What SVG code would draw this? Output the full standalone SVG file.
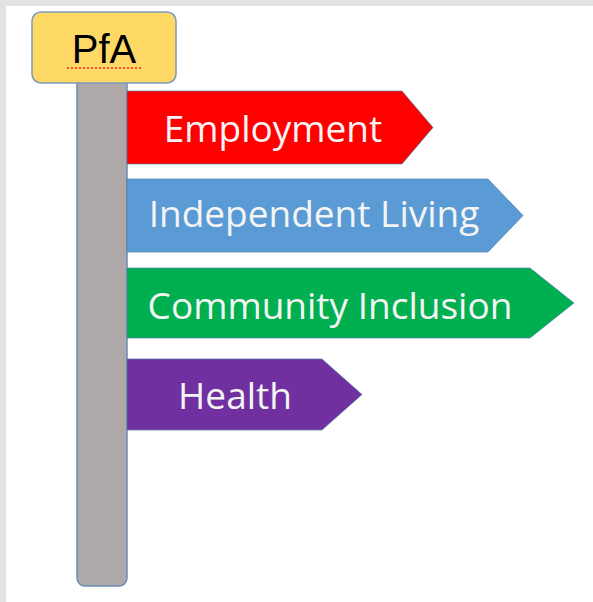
<svg xmlns="http://www.w3.org/2000/svg" width="593" height="602" viewBox="0 0 593 602">
<style>
.lbl{font-family:"Open Sans","Noto Sans","Liberation Sans",sans-serif;font-size:37px;fill:#f4f4f4;text-anchor:middle}
.arrow{stroke:#4f7fae;stroke-width:1;stroke-opacity:0.7}
</style>
<rect x="0" y="0" width="593" height="602" fill="#ffffff"/>
<rect x="0" y="0" width="593" height="6" fill="#e2e2e2"/>
<rect x="0" y="0" width="6" height="602" fill="#e2e2e2"/>
<g id="pole">
<rect x="77" y="70" width="50" height="516" rx="8" fill="#aea9a8" stroke="#6a8cb5" stroke-width="1.5"/>
</g>
<g id="pfa">
<rect x="32" y="12" width="144" height="71" rx="9" fill="#ffd966" stroke="#7b9abd" stroke-width="1.5"/>
<text x="104" y="63" font-family="Liberation Sans,Arial,sans-serif" font-size="40" fill="#000" text-anchor="middle">PfA</text>
<line x1="67" y1="68" x2="143" y2="68" stroke="#ff2020" stroke-width="1.5" stroke-dasharray="2 2"/>
</g>
<g id="employment">
<path class="arrow" d="M127 91 H402 L433 127.5 L402 164 H127 Z" fill="#ff0000"/>
<text class="lbl" x="273" y="142">Employment</text>
</g>
<g id="independent-living">
<path class="arrow" d="M127 179 H488 L523 215.5 L488 252 H127 Z" fill="#5b9bd5"/>
<text class="lbl" x="314" y="227">Independent Living</text>
</g>
<g id="community-inclusion">
<path class="arrow" d="M127 268 H530 L574 303 L530 338 H127 Z" fill="#00b050"/>
<text class="lbl" x="330" y="319">Community Inclusion</text>
</g>
<g id="health">
<path class="arrow" d="M127 359 H322 L362 394.5 L322 430 H127 Z" fill="#7030a0"/>
<text class="lbl" x="235" y="409">Health</text>
</g>
<g id="connectors"></g>
</svg>
